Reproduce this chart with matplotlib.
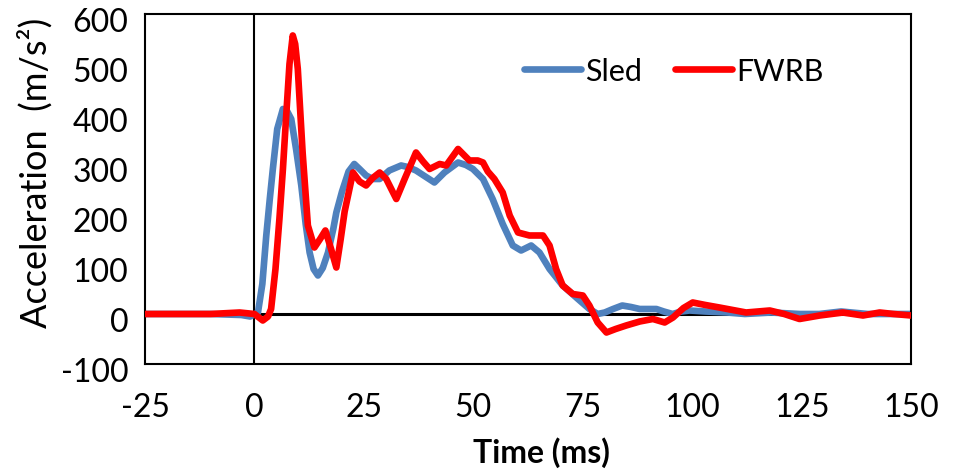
import matplotlib
matplotlib.use("Agg")
import matplotlib.pyplot as plt
import matplotlib.transforms as mtransforms

plt.rcParams['font.family'] = ['Lato', 'DejaVu Sans']

# Sled acceleration (m/s^2) versus time (ms)
sled_t = [-25, -10, -3, -1, 0.8, 1.8, 2.7, 3.5, 4.2, 5.2, 6.5, 7.5, 8.4, 9.5,
          10.7, 11.7, 12.6, 13.5, 14.5, 15.6, 16.8, 18, 18.7, 20, 21.5, 22.8,
          24, 25.5, 27, 28.6, 30.8, 33.5, 35, 36.9, 39, 41.1, 43.4, 46.5, 48.3,
          49.9, 52.2, 54.4, 56.7, 59, 60.9, 63.2, 65.1, 67.4, 70.4, 73.5, 76.5,
          78.4, 80, 81.9, 84, 86, 88, 91.8, 93.5, 95.5, 97.5, 99.4, 103, 108,
          112, 118, 124.5, 129, 134, 140, 145, 150]
sled_a = [0, 0, -2, -5, 3, 60, 157, 230, 290, 370, 410, 405, 390, 330,
          257, 180, 123, 90, 77, 92, 123, 170, 203, 245, 285, 300,
          290, 277, 270, 270, 287, 297, 294, 287, 275, 263, 283, 303, 298,
          290, 270, 230, 180, 137, 127, 137, 123, 90, 57, 33, 10,
          0, 3, 10, 17, 14, 10, 10, 5, 0, 5, 7, 5, 3,
          0, 3, 0, 0, 5, 0, 0, 0]

# FWRB acceleration (m/s^2) versus time (ms)
fwrb_t = [-25, -10, -3.4, 0, 1.9, 3.1, 3.8, 4.8, 5.7, 6.5, 7.2, 8, 8.75, 9.3,
          9.9, 11, 12.2, 13.7, 15, 16.2, 17.5, 18.7, 19.7, 20.6, 22.5, 24, 25.5,
          27, 28.6, 30.1, 32.4, 34.3, 36.9, 38.5, 40, 42.3, 43.8, 46.5, 49.1,
          51, 52.2, 53.3, 54.8, 56.7, 58.3, 60.2, 62.8, 65.9, 67.4, 68.9, 70.4,
          72.7, 75, 76.5, 78.4, 80.4, 82.5, 84.9, 88, 91, 93.7, 95.6, 98, 100.1,
          103, 106.2, 112.3, 117.7, 121, 124.5, 129.1, 134.4, 139, 142.8, 146,
          150]
fwrb_a = [0, 0, 3, 0, -13, -5, 10, 90, 190, 290, 390, 500, 557, 540,
          490, 323, 177, 133, 150, 167, 130, 93, 150, 205, 283, 265, 257,
          272, 283, 270, 230, 270, 323, 305, 290, 300, 297, 330, 307,
          307, 303, 285, 270, 243, 197, 163, 157, 157, 137, 90, 57,
          40, 37, 17, -17, -37, -30, -23, -15, -10, -17, -7, 12, 23,
          18, 13, 3, 7, 0, -10, -3, 3, -3, 3, 0,
          -3]

x_ticks = [-25, 0, 25, 50, 75, 100, 125, 150]
y_ticks = [-100, 0, 100, 200, 300, 400, 500, 600]

fig = plt.figure(figsize=(9.68, 4.77), dpi=100)
ax = fig.add_axes([0.1498, 0.2348, 0.7915, 0.7338])

ax.axhline(0, color='black', lw=2.2, zorder=1)
ax.axvline(0, color='black', lw=1.5, zorder=1)

ax.plot(sled_t, sled_a, color='#4F81BD', lw=4.8, label='Sled',
        solid_joinstyle='round', solid_capstyle='round', zorder=2)
ax.plot(fwrb_t, fwrb_a, color='#FF0000', lw=4.8, label='FWRB',
        solid_joinstyle='round', solid_capstyle='round', zorder=3)

ax.set_xlim(-25, 150)
ax.set_ylim(-100, 600)
ax.set_xticks(x_ticks)
ax.set_yticks(y_ticks)
ax.set_xticklabels([str(v) for v in x_ticks])
ax.set_yticklabels([str(v) for v in y_ticks])
ax.tick_params(axis='both', length=0, labelsize=23)
ax.tick_params(axis='x', pad=20)
ax.tick_params(axis='y', pad=12)

# nudge the y tick labels down a few pixels
offset = mtransforms.ScaledTranslation(0, -5 / 100, fig.dpi_scale_trans)
for lbl in ax.get_yticklabels():
    lbl.set_transform(lbl.get_transform() + offset)

for sp in ax.spines.values():
    sp.set_linewidth(1.5)
    sp.set_color('black')

ax.set_ylabel('Acceleration  (m/s²)', fontsize=26)
ax.yaxis.set_label_coords(-0.12, 0.55)
ax.set_xlabel('Time (ms)', fontsize=23, fontweight='bold')
ax.xaxis.set_label_coords(0.517, -0.206)

ax.legend(loc='center', bbox_to_anchor=(0.69, 0.837), ncol=2, frameon=False,
          fontsize=22, handlelength=1.87, handletextpad=0.12,
          columnspacing=1.1, borderaxespad=0)

fig.savefig('out.png', dpi=100)
